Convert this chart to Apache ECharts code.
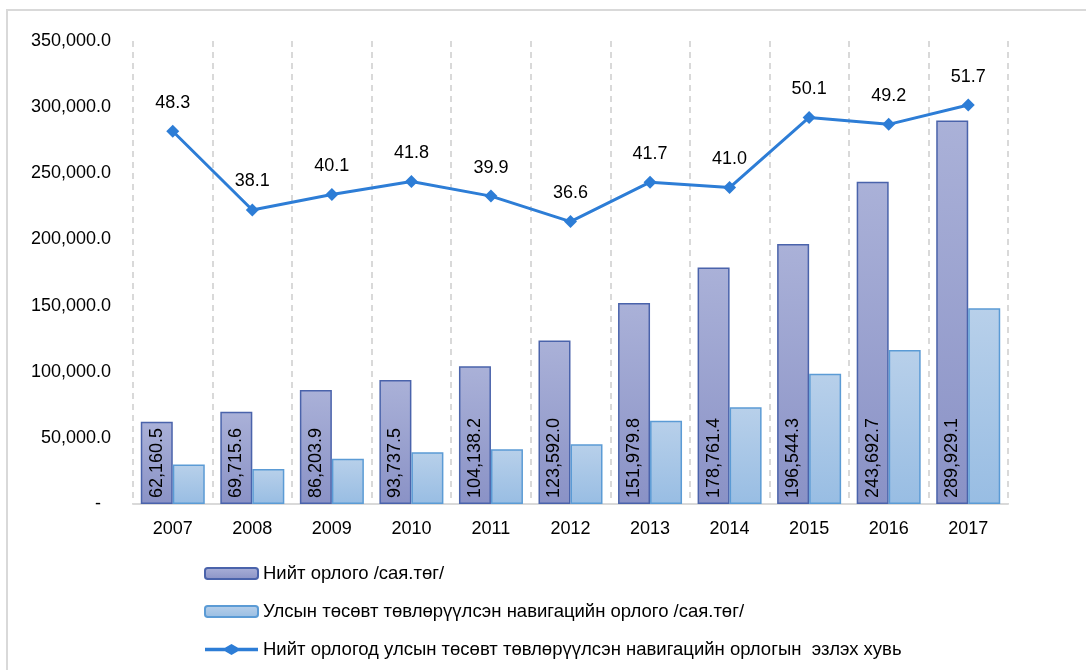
<!DOCTYPE html>
<html>
<head>
<meta charset="utf-8">
<script src="https://cdn.jsdelivr.net/npm/echarts@6/dist/echarts.min.js"></script>
<style>
html,body{margin:0;padding:0;background:#fff;}
#chart{width:1086px;height:670px;}
</style>
</head>
<body>
<div id="chart"></div>
<script>
var years = ['2007','2008','2009','2010','2011','2012','2013','2014','2015','2016','2017'];
var totalIncome = [62160.5, 69715.6, 86203.9, 93737.5, 104138.2, 123592.0, 151979.8, 178761.4, 196544.3, 243692.7, 289929.1];
var navIncome = [29800, 26400, 34300, 39100, 41400, 45200, 63000, 73200, 98400, 116500, 148000];
var sharePct = [48.3, 38.1, 40.1, 41.8, 39.9, 36.6, 41.7, 41.0, 50.1, 49.2, 51.7];
var seriesNames = [
  'Нийт орлого /сая.төг/',
  'Улсын төсөвт төвлөрүүлсэн навигацийн орлого /сая.төг/',
  'Нийт орлогод улсын төсөвт төвлөрүүлсэн навигацийн орлогын  эзлэх хувь'
];
var yTicks = {min: 0, max: 350000, interval: 50000};

var FONT = "'Liberation Sans', Arial, sans-serif";
function fmt(v, d) {
  return v.toLocaleString('en-US', {minimumFractionDigits: d, maximumFractionDigits: d});
}
var lineIcon = 'path://M0,3.8L20,3.8L26.5,0L33,3.8L53,3.8L53,7.2L33,7.2L26.5,11L20,7.2L0,7.2Z';

var chart = echarts.init(document.getElementById('chart'));
chart.setOption({
  backgroundColor: '#fff',
  animation: false,
  graphic: [{
    type: 'rect',
    shape: {x: 7, y: 10, width: 1200, height: 800},
    style: {fill: 'none', stroke: '#d9d9d9', lineWidth: 2},
    silent: true
  }],
  grid: {left: 133, right: 78, top: 41, bottom: 166},
  legend: {
    orient: 'vertical',
    left: 204,
    top: 564,
    padding: 0,
    itemWidth: 53,
    itemHeight: 11,
    itemGap: 19,
    textStyle: {fontSize: 18.5, fontFamily: FONT, color: '#000', lineHeight: 17, padding: [0, 0, 0, 0]},
    data: [
      {name: seriesNames[0]},
      {name: seriesNames[1]},
      {name: seriesNames[2], icon: lineIcon}
    ]
  },
  xAxis: {
    type: 'category',
    data: years,
    axisLine: {show: true, lineStyle: {color: '#d9d9d9', width: 2}},
    axisTick: {show: false},
    axisLabel: {fontSize: 18, fontFamily: FONT, color: '#000', margin: 16},
    splitLine: {show: true, lineStyle: {color: '#d9d9d9', width: 2, type: [6, 5]}}
  },
  yAxis: [{
    type: 'value',
    min: yTicks.min, max: yTicks.max, interval: yTicks.interval,
    axisLine: {show: false},
    axisTick: {show: false},
    splitLine: {show: false},
    axisLabel: {
      fontSize: 18, fontFamily: FONT, color: '#000', margin: 22,
      formatter: function (v) { return v === 0 ? '{d|-}' : fmt(v, 1); },
      rich: {d: {fontSize: 18, fontFamily: FONT, color: '#000', padding: [0, 10, 0, 0]}}
    }
  }, {
    type: 'value', min: 0, max: 60, show: false, splitLine: {show: false}
  }],
  series: [{
    name: seriesNames[0],
    type: 'bar',
    data: totalIncome,
    barWidth: 32,
    barGap: '0%',
    itemStyle: {
      color: new echarts.graphic.LinearGradient(0, 0, 0, 1, [
        {offset: 0, color: '#aab1d8'}, {offset: 1, color: '#8a92c6'}
      ]),
      borderColor: '#4a63ab', borderWidth: 1.5
    },
    label: {
      show: true, position: 'insideBottom', rotate: 90, distance: 6,
      align: 'left', verticalAlign: 'middle',
      fontSize: 18, fontFamily: FONT, color: '#000',
      formatter: function (p) { return fmt(p.value, 1); }
    },
    z: 2
  }, {
    name: seriesNames[1],
    type: 'bar',
    data: navIncome,
    barWidth: 32,
    barGap: '0%',
    itemStyle: {
      color: new echarts.graphic.LinearGradient(0, 0, 0, 1, [
        {offset: 0, color: '#b8d0ea'}, {offset: 1, color: '#98bde3'}
      ]),
      borderColor: '#5b9bd5', borderWidth: 1.5
    },
    z: 2
  }, {
    name: seriesNames[2],
    type: 'line',
    yAxisIndex: 1,
    data: sharePct,
    symbol: 'diamond',
    symbolSize: 13,
    lineStyle: {color: '#2d7dd6', width: 3},
    itemStyle: {color: '#2d7dd6'},
    label: {
      show: true, position: 'top', distance: 13,
      fontSize: 18, fontFamily: FONT, color: '#000',
      formatter: function (p) { return fmt(p.value, 1); }
    },
    z: 5
  }]
});
</script>
</body>
</html>
